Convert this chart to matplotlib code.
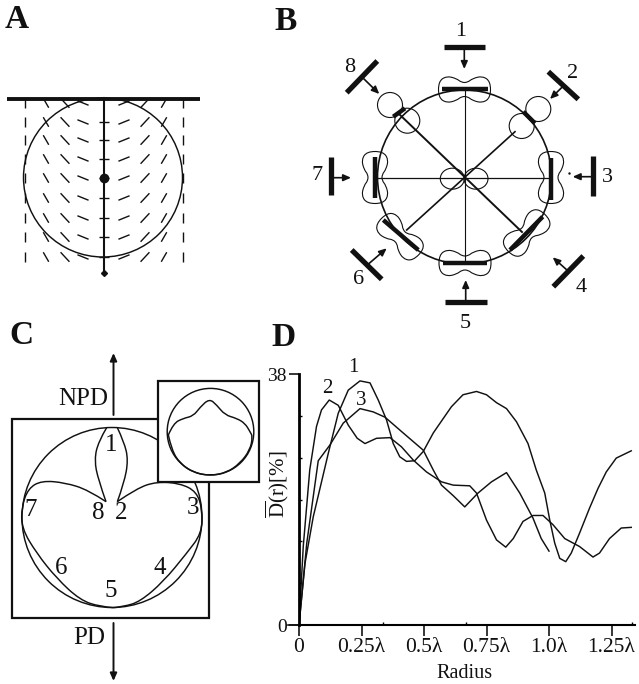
import numpy as np
import matplotlib
matplotlib.use("Agg")
import matplotlib.pyplot as plt
from matplotlib.path import Path
from matplotlib.patches import PathPatch, Circle, Ellipse, Rectangle

plt.rcParams['font.family'] = ['Liberation Serif', 'DejaVu Serif']
plt.rcParams['mathtext.fontset'] = 'custom'
plt.rcParams['mathtext.rm'] = 'Liberation Serif'

# --- panel D: curves (x in wavelengths, y in percent)
d1_x = [0, .024, .057, .117, .157, .197, .244, .284, .317, .350, .377, .403, .430, .463, .497, .537, .577, .610, .656,
        .710, .750, .790, .830, .870, .916, .949, .983, 1.003, 1.023, 1.043, 1.067, 1.089, 1.122, 1.162, 1.196, 1.229,
        1.269, 1.329]
d1_y = [0, 9.35, 16.4, 26.0, 32.1, 35.6, 37.0, 36.7, 34.1, 31.1, 27.5, 25.5, 24.8, 24.9, 26.3, 29.1, 31.3, 33.1, 34.9,
        35.4, 34.9, 33.7, 32.8, 30.8, 27.5, 23.5, 20.0, 15.9, 12.4, 10.1, 9.6, 10.9, 13.9, 17.7, 20.7, 23.2,
        25.3, 26.4]
d2_x = [0, .017, .043, .070, .090, .121, .157, .197, .233, .264, .310, .364, .410, .457, .510, .570, .617, .683, .710,
        .750, .790, .827, .857, .896, .936, .976, 1.016, 1.063, 1.122, 1.176, 1.202, 1.242, 1.289, 1.329]
d2_y = [0, 11.9, 23.5, 30.1, 32.6, 34.1, 33.3, 30.3, 28.3, 27.5, 28.3, 28.4, 27.0, 25.0, 23.2, 21.7, 21.2, 21.1, 20.0,
        15.9, 12.9, 11.8, 13.1, 15.7, 16.6, 16.6, 15.2, 13.1, 11.9, 10.3, 10.9, 13.1, 14.7, 14.8]
d3_x = [0, .031, .077, .124, .177, .244, .297, .344, .417, .497, .537, .570, .617, .663, .716, .770, .830, .883, .936,
        .969, 1.0]
d3_y = [0, 12.4, 24.9, 27.3, 30.6, 32.8, 32.3, 31.5, 29.1, 26.5, 23.5, 21.2, 19.6, 17.9, 20.0, 21.7, 23.1, 20.0, 16.2,
        13.1, 11.2]
d_xticks = [0, .25, .5, .75, 1.0, 1.25]
d_xlabels = ["0", "0.25λ", "0.5λ", "0.75λ", "1.0λ", "1.25λ"]
d_xminor = [.334, .667, 1.333]
d_yticks = [0, 38]
d_yminor = [6.33, 12.67, 19, 25.33, 31.67]

# --- panel A: direction field, in image pixels
field_x = [25, 46, 65, 83, 104, 124, 145, 164, 183]
field_y = [100, 122, 140, 159, 178, 198, 218, 237, 257]
field_angle = [90, 60, 47, 22, 0, -22, -47, -60, -90]
field_len = [10, 11, 13, 12, 10, 12, 13, 11, 10]

# --- panel B: outer bars, stems, inner bars (image pixels)
outer_bars = [((444, 46.7), (485, 46.7)), ((548.3, 71.7), (578.3, 99.3)), ((593.3, 156), (593.3, 196)),
              ((553.3, 286.7), (583.3, 256)), ((445, 302.3), (486.7, 302.3)), ((351.7, 250), (381.7, 279.3)),
              ((331, 156.7), (331, 195.3)), ((346.7, 92.7), (377.3, 61))]
stems = [((464.3, 46.7), (464.3, 69)), ((563.3, 86), (550, 99)), ((593.3, 176.7), (572.7, 176.7)),
         ((567.7, 270.7), (552.7, 257.3)), ((465.7, 302.3), (465.7, 280)), ((367.3, 265), (386.7, 248.3)),
         ((331, 177.7), (351, 177.7)), ((362.3, 77.3), (379.3, 94))]
inner_bars = [((441.7, 89.3), (488.3, 89.3)), ((523.3, 111.7), (535, 123.3)), ((551, 158.3), (551, 200)),
              ((510, 250), (542.7, 216.7)), ((442.7, 263.3), (487.3, 263.3)), ((383.3, 220), (418.3, 250)),
              ((375, 156.7), (375, 198.3)), ((393.3, 116.7), (405, 108.3))]
spokes = [((464.5, 89), (464.5, 263)), ((375, 178), (551, 178)), ((398.3, 113.3), (522, 232)),
          ((515, 131.7), (406.7, 230))]
spoke_lw = [0.8, 0.9, 1.4, 1.2]
b_labels = ["1", "2", "3", "4", "5", "6", "7", "8"]
b_label_x = [461, 573, 607.7, 581, 465, 358.3, 317, 350]
b_label_y = [31, 74, 178, 287, 324, 279, 175, 67]
peanut = [(3, 7), (8, 11), (18, 13.5), (26, 8), (26, -8), (18, -13.5), (8, -11), (3, -7), (-3, -7),
          (-8, -11), (-18, -13.5), (-26, -8), (-26, 8), (-18, 13.5), (-8, 11), (-3, 7)]
peanut_x = [464.5, 551, 526.7, 465, 400, 375]
peanut_y = [89.5, 177.5, 233, 263, 236.7, 177.5]
peanut_rot = [0, 90, -45, 0, 45, 90]
lobe_x = [538.3, 521.7, 390, 407.3, 452.3, 476]
lobe_y = [109, 126, 105, 120.7, 178.7, 178.7]

# --- panel C: curves read in 3x crop coordinates
petal_left = [(318, 545), (295, 480), (283, 420), (295, 365), (320, 323)]
petal_right = [(352, 545), (372, 490), (385, 420), (372, 365), (352, 323)]
lobe_left = [(318, 545), (265, 510), (195, 488), (125, 482), (85, 505), (65, 560), (65, 625), (110, 700),
             (170, 775), (240, 840), (300, 860), (340, 863)]
lobe_right = [(352, 545), (410, 505), (470, 485), (540, 490), (590, 515), (607, 570), (605, 640), (560, 700),
              (490, 785), (420, 845), (370, 860), (340, 863)]
inset_curve = [(505, 345), (520, 310), (550, 295), (580, 288), (600, 262), (628, 236), (650, 255), (675, 285),
               (710, 295), (735, 310), (750, 335), (758, 350), (750, 390), (720, 430), (680, 458), (630, 467),
               (580, 458), (540, 430), (515, 390), (505, 345)]
c_labels = ["1", "7", "8", "2", "3", "6", "4", "5"]
c_label_x = [111, 31, 98.3, 120.7, 192.7, 60.7, 159.3, 110.7]
c_label_y = [445, 510, 512.7, 512.7, 508, 568.3, 568.3, 590.7]


def spline(points):
    # quadratic segments through the midpoints of the listed points
    pts = np.asarray(points, float)
    verts = [pts[0]]
    codes = [Path.MOVETO]
    for i in range(1, len(pts) - 1):
        end = pts[i + 1] if i == len(pts) - 2 else (pts[i] + pts[i + 1]) / 2
        verts += [pts[i], end]
        codes += [Path.CURVE3, Path.CURVE3]
    return Path(verts, codes)


def crop(points):
    return np.array(points) / 3 + [0, 320]


def arrow(ax, start, tip, lw=1.2):
    ax.annotate("", xy=tip, xytext=start,
                arrowprops=dict(arrowstyle="-|>,head_length=0.45,head_width=0.2", lw=lw, color="#111111",
                                shrinkA=0, shrinkB=0, mutation_scale=10))


fig = plt.figure(figsize=(6.39, 6.84), dpi=100)
ax = fig.add_axes([0, 0, 1, 1])
ax.set_xlim(0, 639)
ax.set_ylim(684, 0)
ax.axis("off")

ink = "#111111"
thin = 1.05
num_size = 16

for letter, lx, ly in [("A", 17, 20), ("B", 286, 21), ("C", 21, 336), ("D", 284, 337)]:
    ax.text(lx, ly, letter, fontsize=24, fontweight="bold", ha="center", va="center", color=ink)

# panel A
ax.add_patch(Circle((103, 177.5), 79.5, fill=False, ec=ink, lw=thin))
for x, ang, ln in zip(field_x, field_angle, field_len):
    dx = np.cos(np.radians(ang)) * ln / 2
    dy = np.sin(np.radians(ang)) * ln / 2
    for y in field_y:
        if ang == 0 and y == field_y[0]:
            continue
        ax.plot([x - dx, x + dx], [y - dy + (3 if y == field_y[0] else 0), y + dy + (3 if y == field_y[0] else 0)],
                color=ink, lw=1.0, solid_capstyle="butt")
ax.plot([7, 200], [98.5, 98.5], color=ink, lw=2.8, solid_capstyle="butt")
ax.plot([104, 104], [98, 270], color=ink, lw=1.5)
ax.plot([104], [177.5], "o", color=ink, ms=6)
ax.plot([104], [272.5], "D", color=ink, ms=3)

# panel B
ax.add_patch(Circle((464.5, 177), 87, fill=False, ec=ink, lw=1.2))
for (a, b), lw in zip(spokes, spoke_lw):
    ax.plot([a[0], b[0]], [a[1], b[1]], color=ink, lw=lw)
for px, py, rot in zip(peanut_x, peanut_y, peanut_rot):
    t = np.radians(rot)
    u = np.array(peanut)
    rx = px + u[:, 0] * np.cos(t) - u[:, 1] * np.sin(t)
    ry = py + u[:, 0] * np.sin(t) + u[:, 1] * np.cos(t)
    first = [(rx[0] + rx[-1]) / 2, (ry[0] + ry[-1]) / 2]
    closed = [first] + list(zip(rx, ry)) + [first]
    ax.add_patch(PathPatch(spline(closed), fill=False, ec=ink, lw=0.8))
for i, (lx, ly) in enumerate(zip(lobe_x, lobe_y)):
    if i < 4:
        ax.add_patch(Circle((lx, ly), 12.5, fill=False, ec=ink, lw=0.8))
    else:
        ax.add_patch(Ellipse((lx, ly), 24, 21, fill=False, ec=ink, lw=0.8))
for a, b in outer_bars:
    ax.plot([a[0], b[0]], [a[1], b[1]], color=ink, lw=3.8, solid_capstyle="butt")
for a, b in inner_bars:
    ax.plot([a[0], b[0]], [a[1], b[1]], color=ink, lw=3.2, solid_capstyle="butt")
for a, b in stems:
    arrow(ax, a, b)
ax.plot([568.5], [172.7], ".", color=ink, ms=1.5)
for s, lx, ly in zip(b_labels, b_label_x, b_label_y):
    ax.text(lx, ly, s, fontsize=num_size, ha="center", va="center", color=ink)

# panel C
ax.add_patch(Rectangle((12, 419.3), 197, 198.4, fill=False, ec=ink, lw=1.6))
ax.add_patch(Circle((112, 517.5), 90, fill=False, ec=ink, lw=thin))
for curve in [petal_left, petal_right, lobe_left, lobe_right]:
    ax.add_patch(PathPatch(spline(crop(curve)), fill=False, ec=ink, lw=thin))
ax.add_patch(Rectangle((158, 380.7), 100.7, 101, fc="white", ec=ink, lw=1.6, zorder=3))
ax.add_patch(Circle((210.5, 431.7), 43.3, fill=False, ec=ink, lw=thin, zorder=4))
ax.add_patch(PathPatch(spline(crop(inset_curve)), fill=False, ec=ink, lw=thin, zorder=4))
for s, lx, ly in zip(c_labels, c_label_x, c_label_y):
    ax.text(lx, ly, s, fontsize=18, ha="center", va="center", color=ink)
ax.text(83, 399, "NPD", fontsize=18, ha="center", va="center", color=ink)
ax.text(89.5, 638, "PD", fontsize=18, ha="center", va="center", color=ink)
arrow(ax, (113.5, 415), (113.5, 353), lw=1.4)
arrow(ax, (113.5, 623), (113.5, 681), lw=1.4)

# panel D
dx0, dx1, dy0, dy1 = 299, 635, 625, 374.3
axd = fig.add_axes([dx0 / 639, 1 - dy0 / 684, (dx1 - dx0) / 639, (dy0 - dy1) / 684])
axd.set_xlim(0, (dx1 - dx0) / 250)
axd.set_ylim(0, 38)
axd.patch.set_alpha(0)
for s in ["top", "right"]:
    axd.spines[s].set_visible(False)
axd.spines["left"].set_linewidth(2.0)
axd.spines["bottom"].set_linewidth(1.5)
axd.plot(d1_x, d1_y, color=ink, lw=thin)
axd.plot(d2_x, d2_y, color=ink, lw=thin)
axd.plot(d3_x, d3_y, color=ink, lw=thin)
axd.plot([-0.044, 0], [0, 0], color=ink, lw=1.2, clip_on=False)
axd.set_xticks(d_xticks, d_xlabels, fontsize=15.5, color=ink)
axd.set_yticks(d_yticks, ["0", "38"], fontsize=14, color=ink)
axd.set_xticks(d_xminor, minor=True)
axd.set_yticks(d_yminor, minor=True)
axd.tick_params(axis="x", which="major", length=8, width=1.1, pad=1.5)
axd.tick_params(axis="x", which="minor", length=2, width=1, direction="in")
axd.tick_params(axis="y", which="major", length=7, width=1.1, pad=2)
axd.tick_params(axis="y", which="minor", length=2, width=1, direction="in")
axd.text(0.217, 39.0, "1", fontsize=15, ha="center", va="center", color=ink)
axd.text(0.113, 35.8, "2", fontsize=15, ha="center", va="center", color=ink)
axd.text(0.25, 34.1, "3", fontsize=15, ha="center", va="center", color=ink)
ax.text(277, 484, r"$\overline{\mathrm{D}}$(r)[%]", rotation=90, fontsize=15, ha="center", va="center", color=ink)
ax.text(464.8, 673, "Radius", fontsize=14.5, ha="center", va="center", color=ink)

fig.savefig("out.png", dpi=100)
